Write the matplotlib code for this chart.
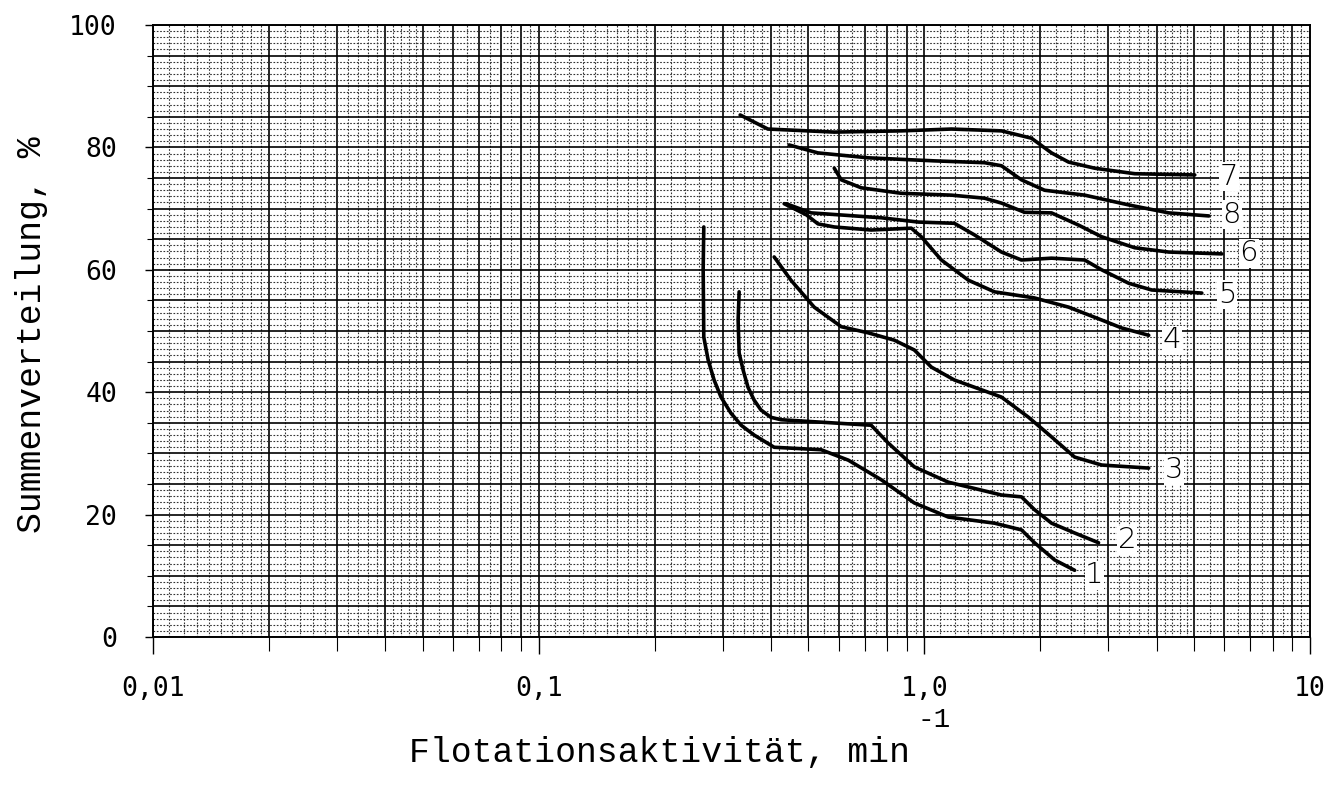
import numpy as np
import matplotlib
matplotlib.use("Agg")
import matplotlib.pyplot as plt

# Curves (x = flotation activity in 1/min, y = cumulative %)
x1 = [0.268, 0.267, 0.268, 0.275, 0.285, 0.297, 0.315, 0.335, 0.362, 0.408, 0.540, 0.635, 0.773, 0.942, 1.154, 1.520, 1.786, 1.931, 2.176, 2.453]
y1 = [67.0, 60.0, 49.0, 45.3, 42.0, 39.2, 36.6, 34.6, 33.0, 31.0, 30.6, 28.9, 25.7, 21.9, 19.6, 18.6, 17.5, 15.4, 12.6, 10.9]

x2 = [0.331, 0.329, 0.330, 0.331, 0.339, 0.349, 0.362, 0.377, 0.400, 0.425, 0.574, 0.728, 0.806, 0.942, 1.154, 1.406, 1.585, 1.786, 1.931, 2.137, 2.453, 2.830]
y2 = [56.4, 51.8, 49.0, 46.4, 43.6, 40.8, 38.7, 37.1, 35.9, 35.5, 35.0, 34.6, 31.7, 27.8, 25.3, 24.0, 23.2, 22.9, 20.8, 18.6, 17.0, 15.4]

x3 = [0.408, 0.451, 0.518, 0.609, 0.715, 0.836, 0.942, 1.043, 1.196, 1.406, 1.585, 1.863, 2.137, 2.453, 2.882, 3.818]
y3 = [62.1, 58.3, 53.9, 50.7, 49.7, 48.5, 46.9, 44.1, 42.0, 40.4, 39.2, 35.9, 32.7, 29.4, 28.1, 27.6]

x4 = [0.433, 0.494, 0.530, 0.584, 0.728, 0.925, 0.982, 1.107, 1.301, 1.520, 1.931, 2.366, 2.882, 3.248, 3.818]
y4 = [70.8, 69.0, 67.5, 67.0, 66.5, 66.8, 65.4, 61.6, 58.3, 56.4, 55.4, 53.9, 51.8, 50.5, 49.3]

x5 = [0.438, 0.509, 0.773, 0.965, 1.196, 1.349, 1.585, 1.786, 2.137, 2.604, 2.882, 3.388, 3.887, 5.242]
y5 = [70.8, 69.3, 68.5, 67.8, 67.6, 65.7, 62.9, 61.6, 61.9, 61.6, 60.0, 57.8, 56.7, 56.2]

x6 = [0.584, 0.609, 0.686, 0.871, 1.175, 1.432, 1.585, 1.818, 2.137, 2.512, 2.882, 3.512, 4.302, 5.906]
y6 = [76.6, 74.7, 73.4, 72.5, 72.2, 71.7, 70.9, 69.4, 69.3, 67.3, 65.4, 63.6, 62.9, 62.6]

x7 = [0.333, 0.393, 0.584, 0.871, 1.175, 1.585, 1.896, 2.137, 2.366, 2.764, 3.512, 5.026]
y7 = [85.3, 83.0, 82.5, 82.7, 83.0, 82.7, 81.5, 79.1, 77.6, 76.6, 75.7, 75.5]

x8 = [0.446, 0.530, 0.715, 1.062, 1.432, 1.585, 1.786, 2.050, 2.604, 3.388, 4.302, 5.467]
y8 = [80.4, 79.1, 78.3, 77.8, 77.5, 77.0, 74.7, 73.0, 72.2, 70.6, 69.3, 68.8]

curve_labels = ["1", "2", "3", "4", "5", "6", "7", "8"]
label_x = [2.76, 3.35, 4.44, 4.38, 6.09, 6.94, 6.16, 6.27]
label_y = [10.1, 15.8, 27.3, 48.5, 55.9, 62.7, 75.2, 69.0]

xticks = [0.01, 0.1, 1.0, 10]
xtick_labels = ["0,01", "0,1", "1,0", "10"]
yticks = [0, 20, 40, 60, 80, 100]
ytick_labels = ["0", "20", "40", "60", "80", "100"]

fig = plt.figure(figsize=(13.25, 7.87), dpi=100)
ax = fig.add_axes([153 / 1325, 1 - 637 / 787, (1310 - 153) / 1325, (637 - 25) / 787])
ax.set_xscale("log")
ax.set_xlim(0.01, 10)
ax.set_ylim(0, 100)

# graph paper grid
major_x = [d * k for d in [0.01, 0.1, 1.0] for k in range(1, 10)]
minor_x = []
for d in [0.01, 0.1, 1.0]:
    for v in np.concatenate([np.arange(1.1, 2.0, 0.1), np.arange(2.2, 5.0, 0.2), np.arange(5.5, 10.0, 0.5)]):
        if abs(v - round(v)) > 1e-6:
            minor_x.append(d * v)
for v in minor_x:
    ax.axvline(v, color="0.2", lw=0.8, ls=(0, (1.5, 1.5)), zorder=1)
for v in major_x:
    ax.axvline(v, color="black", lw=1.2, zorder=1)
for v in range(0, 101):
    if v % 5 == 0:
        ax.axhline(v, color="black", lw=1.2, zorder=1)
    else:
        ax.axhline(v, color="0.2", lw=0.8, ls=(0, (1.5, 1.5)), zorder=1)

# curves
for xs, ys in [(x1, y1), (x2, y2), (x3, y3), (x4, y4), (x5, y5), (x6, y6), (x7, y7), (x8, y8)]:
    ax.plot(xs, ys, color="black", lw=2.6, solid_capstyle="round",
            solid_joinstyle="round", zorder=3)

for t, lx, ly in zip(curve_labels, label_x, label_y):
    ax.text(lx, ly, t, fontsize=21, family="DejaVu Sans", fontweight="light",
            ha="center", va="center", zorder=4,
            bbox=dict(facecolor="white", edgecolor="none", pad=0.5))

for s in ax.spines.values():
    s.set_linewidth(1.4)

ax.set_xticks(xticks)
ax.set_xticklabels(xtick_labels, family="DejaVu Sans Mono", fontsize=19)
ax.set_xticks([d * k for d in [0.01, 0.1, 1.0] for k in range(2, 10)], minor=True)
ax.xaxis.set_minor_formatter(matplotlib.ticker.NullFormatter())
ax.set_yticks(yticks)
ax.set_yticklabels(ytick_labels, family="DejaVu Sans Mono", fontsize=19)
ax.set_yticks(range(0, 101, 5), minor=True)
ax.tick_params(axis="x", which="major", direction="out", length=12, width=1, pad=16)
ax.tick_params(axis="x", which="minor", direction="out", length=10, width=0.8)
ax.tick_params(axis="y", which="major", direction="out", length=6, width=1, pad=20)
ax.tick_params(axis="y", which="minor", direction="out", length=4, width=0.8)

fig.text(910 / 1325, 1 - 752 / 787, "Flotationsaktivität, min", family="Liberation Mono",
         fontsize=25, ha="right", va="center")
fig.text(918 / 1325, 1 - 720 / 787, "-1", family="Liberation Mono",
         fontsize=20, ha="left", va="center")
fig.text(32 / 1325, 1 - 335 / 787, "Summenverteilung, %", family="Liberation Mono",
         fontsize=25, rotation=90, ha="center", va="center")

fig.savefig("out.png", dpi=100)
